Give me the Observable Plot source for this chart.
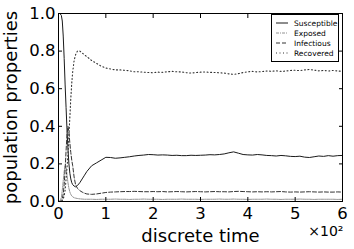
<!DOCTYPE html>
<html>
<head>
<meta charset="utf-8">
<script src="https://cdn.jsdelivr.net/npm/d3@7"></script>
<script src="https://cdn.jsdelivr.net/npm/@observablehq/plot@0.6"></script>
<style>
  html, body { margin: 0; padding: 0; background: #fff; }
  #wrap { position: relative; width: 354px; height: 249px; }
  #legend { position: absolute; left: 271px; top: 14px; width: 68px; height: 48px;
    border: 1px solid #000; background: #fff; box-sizing: border-box;
    font-family: "DejaVu Sans", sans-serif; }
</style>
</head>
<body>
<div id="wrap"></div>
<script>
const time = [0,3,6,8,10,12,14,16,18,20,22,24,26,28,30,33,36,40,45,50,55,60,70,80,90,100,
  110,120,130,140,150,160,170,180,190,200,210,220,230,240,250,260,270,280,290,300,
  310,320,330,340,350,360,370,380,390,400,410,420,430,440,450,460,470,480,490,500,
  510,520,530,540,550,560,570,580,590,600];
const susceptible = [1.0,1.0,0.99,0.96,0.88,0.76,0.62,0.5,0.38,0.28,0.2,0.15,0.12,0.1,0.09,0.082,0.078,0.085,0.1,0.12,0.14,0.16,0.19,0.205,0.22,0.235,
  0.234,0.23,0.232,0.235,0.238,0.242,0.245,0.247,0.25,0.249,0.247,0.248,0.247,0.245,0.246,0.244,0.244,0.246,0.245,0.246,
  0.247,0.249,0.248,0.25,0.253,0.259,0.264,0.257,0.25,0.248,0.247,0.25,0.248,0.245,0.244,0.242,0.245,0.243,0.24,0.239,
  0.241,0.236,0.234,0.238,0.242,0.24,0.244,0.241,0.244,0.245];
const exposed = [0,0.003,0.02,0.06,0.11,0.16,0.19,0.18,0.14,0.1,0.07,0.05,0.038,0.03,0.025,0.02,0.018,0.016,0.014,0.013,0.012,0.012,0.012,0.011,0.012,0.012,
  0.012,0.013,0.012,0.012,0.011,0.012,0.012,0.013,0.012,0.012,0.012,0.011,0.012,0.012,0.012,0.013,0.012,0.012,0.012,0.011,
  0.012,0.012,0.012,0.013,0.012,0.012,0.013,0.012,0.012,0.011,0.012,0.012,0.012,0.013,0.012,0.012,0.011,0.012,0.012,0.012,
  0.013,0.012,0.012,0.011,0.012,0.012,0.012,0.012,0.011,0.012];
const infectious = [0,0,0.005,0.015,0.04,0.09,0.17,0.27,0.36,0.4,0.37,0.31,0.26,0.22,0.19,0.13,0.09,0.07,0.058,0.05,0.044,0.04,0.038,0.04,0.044,0.048,
  0.05,0.051,0.052,0.053,0.053,0.054,0.053,0.052,0.052,0.053,0.052,0.053,0.051,0.052,0.053,0.052,0.051,0.052,0.053,0.052,
  0.051,0.052,0.053,0.052,0.052,0.051,0.053,0.054,0.053,0.052,0.051,0.052,0.051,0.052,0.051,0.052,0.053,0.051,0.05,0.051,
  0.05,0.051,0.052,0.051,0.05,0.051,0.05,0.05,0.051,0.05];
const recovered = [0,0,0,0.005,0.015,0.03,0.06,0.12,0.18,0.25,0.35,0.45,0.55,0.63,0.69,0.75,0.78,0.8,0.8,0.79,0.78,0.77,0.75,0.735,0.72,0.71,
  0.705,0.7,0.7,0.698,0.695,0.69,0.69,0.688,0.686,0.685,0.688,0.687,0.69,0.692,0.69,0.689,0.685,0.683,0.686,0.688,
  0.689,0.687,0.686,0.685,0.683,0.679,0.676,0.68,0.686,0.69,0.692,0.689,0.691,0.694,0.693,0.695,0.692,0.694,0.697,0.698,
  0.696,0.7,0.702,0.699,0.695,0.697,0.694,0.697,0.694,0.693];
const seriesNames = ["Susceptible", "Exposed", "Infectious", "Recovered"];
const xTicks = [0,100,200,300,400,500,600];
const yTicks = [0,0.2,0.4,0.6,0.8,1.0];

const seriesValues = [susceptible, exposed, infectious, recovered];
const styles = {
  Susceptible: {stroke: "#1a1a1a", strokeWidth: 1, dash: null},
  Exposed: {stroke: "#777", strokeWidth: 0.8, dash: "3,1,1,1"},
  Infectious: {stroke: "#333", strokeWidth: 1, dash: "4,2"},
  Recovered: {stroke: "#333", strokeWidth: 1.1, dash: "1,2.5"}
};

const lineMarks = seriesNames.map((name, i) => {
  const rows = time.map((t, j) => ({t, v: seriesValues[i][j]}));
  const s = styles[name];
  return Plot.line(rows, {x: "t", y: "v", stroke: s.stroke, strokeWidth: s.strokeWidth,
    strokeDasharray: s.dash, curve: "linear"});
});

const chart = Plot.plot({
  width: 354, height: 249,
  marginLeft: 58, marginRight: 12, marginTop: 13, marginBottom: 48,
  style: {fontFamily: "DejaVu Sans, sans-serif", fontSize: "16.5px", background: "#fff", color: "#000"},
  x: {domain: [0, 600]},
  y: {domain: [0, 1]},
  marks: [
    ...lineMarks,
    Plot.frame({stroke: "#000", strokeWidth: 1}),
    Plot.axisX({ticks: xTicks, tickSize: -4, tickPadding: 10, tickFormat: d => d / 100, label: null, fontSize: 16.5}),
    Plot.axisX({ticks: [], label: "discrete time", labelAnchor: "center", labelArrow: "none", labelOffset: 40, fontSize: 18}),
    Plot.axisX({anchor: "top", ticks: xTicks, tickSize: -4, tickFormat: () => "", label: null}),
    Plot.axisY({ticks: yTicks, tickSize: -4, tickPadding: 7, tickFormat: d3.format(".1f"), label: null, fontSize: 16.5}),
    Plot.axisY({ticks: [], label: "population properties", labelAnchor: "center", labelArrow: "none", labelOffset: 54, fontSize: 18}),
    Plot.axisY({anchor: "right", ticks: yTicks, tickSize: -4, tickFormat: () => "", label: null}),
    Plot.text(["×10²"], {text: d => d, frameAnchor: "bottom-right", dy: 34, dx: 1, textAnchor: "end", fontSize: 14})
  ]
});
document.getElementById("wrap").appendChild(chart);

// legend
const legend = document.createElement("div");
legend.id = "legend";
const ns = "http://www.w3.org/2000/svg";
const svg = document.createElementNS(ns, "svg");
svg.setAttribute("width", 66); svg.setAttribute("height", 46);
seriesNames.forEach((name, i) => {
  const y = 8 + i * 10;
  const s = styles[name];
  const ln = document.createElementNS(ns, "line");
  ln.setAttribute("x1", 4); ln.setAttribute("x2", 16);
  ln.setAttribute("y1", y); ln.setAttribute("y2", y);
  ln.setAttribute("stroke", s.stroke); ln.setAttribute("stroke-width", s.strokeWidth);
  if (s.dash) ln.setAttribute("stroke-dasharray", s.dash);
  svg.appendChild(ln);
  const tx = document.createElementNS(ns, "text");
  tx.setAttribute("x", 22); tx.setAttribute("y", y);
  tx.setAttribute("dy", "0.35em");
  tx.setAttribute("font-size", "7.5");
  tx.setAttribute("font-family", "DejaVu Sans, sans-serif");
  tx.textContent = name;
  svg.appendChild(tx);
});
legend.appendChild(svg);
document.getElementById("wrap").appendChild(legend);
</script>
</body>
</html>
